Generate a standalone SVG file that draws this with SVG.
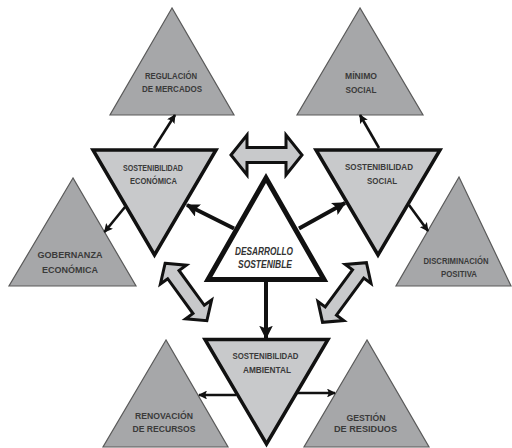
<svg xmlns="http://www.w3.org/2000/svg" width="512" height="448" viewBox="0 0 512 448">
<style>
.outer{fill:#a6a7a9;stroke:#5a5a5a;stroke-width:1.2;stroke-linejoin:miter}
.inv{fill:#c8c9cb;stroke:#111;stroke-width:3.5;stroke-linejoin:miter}
.core{fill:#fff;stroke:#111;stroke-width:5;stroke-linejoin:miter}
.dbl{fill:#c8c9cb;stroke:#111;stroke-width:3;stroke-linejoin:miter}
.t{font-family:"Liberation Sans",Arial,sans-serif;font-weight:bold;font-size:9.5px;fill:#3a3a3a;text-anchor:middle}
.ti{font-family:"Liberation Sans",Arial,sans-serif;font-weight:bold;font-style:italic;font-size:10px;fill:#333;text-anchor:middle}
.a1{stroke:#111;stroke-width:4;fill:none;marker-end:url(#hd)}
.a2{stroke:#111;stroke-width:2.6;fill:none;marker-end:url(#hd)}
</style>
<defs>
<marker id="hd" viewBox="0 0 10 10" refX="9" refY="5" markerWidth="3.4" markerHeight="3.4" orient="auto" markerUnits="strokeWidth">
<path d="M0,0 L10,5 L0,10 L2,5 z" fill="#111"/>
</marker>
</defs>

<g id="regulacion">
<polygon class="outer" points="172,8 110,115 234,115"/>
<text class="t" x="171" y="79" textLength="52" lengthAdjust="spacingAndGlyphs">REGULACIÓN</text>
<text class="t" x="172" y="92" textLength="60" lengthAdjust="spacingAndGlyphs">DE MERCADOS</text>
</g>
<g id="minimo">
<polygon class="outer" points="360,8 297,115 423,115"/>
<text class="t" x="361" y="79" textLength="32" lengthAdjust="spacingAndGlyphs">MÍNIMO</text>
<text class="t" x="361" y="93" textLength="31" lengthAdjust="spacingAndGlyphs">SOCIAL</text>
</g>
<g id="gobernanza">
<polygon class="outer" points="73,178 9,286 136,286"/>
<text class="t" x="70" y="258" font-size="10.5" textLength="65" lengthAdjust="spacingAndGlyphs">GOBERNANZA</text>
<text class="t" x="70" y="273" font-size="10.5" textLength="56" lengthAdjust="spacingAndGlyphs">ECONÓMICA</text>
</g>
<g id="discriminacion">
<polygon class="outer" points="459,177 396,286 511,286"/>
<text class="t" x="456" y="264" font-size="9" textLength="65" lengthAdjust="spacingAndGlyphs">DISCRIMINACIÓN</text>
<text class="t" x="459" y="277" font-size="9" textLength="36" lengthAdjust="spacingAndGlyphs">POSITIVA</text>
</g>
<g id="renovacion">
<polygon class="outer" points="166,340 103,447 228,447"/>
<text class="t" x="164" y="419" font-size="10" textLength="58" lengthAdjust="spacingAndGlyphs">RENOVACIÓN</text>
<text class="t" x="164" y="432" font-size="10" textLength="63" lengthAdjust="spacingAndGlyphs">DE RECURSOS</text>
</g>
<g id="gestion">
<polygon class="outer" points="367,340 304,447 429,447"/>
<text class="t" x="366" y="421" font-size="10" textLength="39" lengthAdjust="spacingAndGlyphs">GESTIÓN</text>
<text class="t" x="365.5" y="432" font-size="10" textLength="63" lengthAdjust="spacingAndGlyphs">DE RESIDUOS</text>
</g>

<g id="sost-economica">
<polygon class="inv" points="93,150 216,150 154.5,255"/>
<text class="t" x="153" y="171" font-size="8.5" textLength="60" lengthAdjust="spacingAndGlyphs">SOSTENIBILIDAD</text>
<text class="t" x="153.5" y="184" font-size="8.5" textLength="47" lengthAdjust="spacingAndGlyphs">ECONÓMICA</text>
</g>
<g id="sost-social">
<polygon class="inv" points="316,150 440,150 378,255"/>
<text class="t" x="379" y="170" font-size="8.5" textLength="68" lengthAdjust="spacingAndGlyphs">SOSTENIBILIDAD</text>
<text class="t" x="382" y="184" font-size="8.5" textLength="30" lengthAdjust="spacingAndGlyphs">SOCIAL</text>
</g>
<g id="sost-ambiental">
<polygon class="inv" points="205,339.5 328,339.5 266.5,444"/>
<text class="t" x="265.5" y="359" font-size="8.5" textLength="66" lengthAdjust="spacingAndGlyphs">SOSTENIBILIDAD</text>
<text class="t" x="267" y="373" font-size="8.5" textLength="48" lengthAdjust="spacingAndGlyphs">AMBIENTAL</text>
</g>
<g id="desarrollo">
<polygon class="core" points="266,178 208,279.5 324,279.5"/>
<text class="ti" x="264" y="255" textLength="58" lengthAdjust="spacingAndGlyphs">DESARROLLO</text>
<text class="ti" x="265" y="268" textLength="54" lengthAdjust="spacingAndGlyphs">SOSTENIBLE</text>
</g>

<g id="connectors">
<line class="a1" x1="234" y1="228.5" x2="187" y2="205"/>
<line class="a1" x1="299" y1="228.5" x2="345" y2="203"/>
<line class="a1" x1="266" y1="282" x2="266" y2="338"/>
<line class="a2" x1="154" y1="148" x2="175" y2="115"/>
<line class="a2" x1="379" y1="148" x2="360" y2="115"/>
<line class="a2" x1="125" y1="207" x2="104.5" y2="232"/>
<line class="a2" x1="409" y1="205" x2="428" y2="231"/>
<line class="a2" x1="236" y1="395" x2="199" y2="395"/>
<line class="a2" x1="297" y1="393" x2="335" y2="393"/>
<path class="dbl" transform="translate(266.5,155)" d="M-35.5,0 L-19.5,-20 L-19.5,-7.5 L19.5,-7.5 L19.5,-20 L35.5,0 L19.5,20 L19.5,7.5 L-19.5,7.5 L-19.5,20 Z"/>
<path class="dbl" transform="translate(186,292) rotate(54)" d="M-35.5,0 L-21.5,-16 L-21.5,-7 L21.5,-7 L21.5,-16 L35.5,0 L21.5,16 L21.5,7 L-21.5,7 L-21.5,16 Z"/>
<path class="dbl" transform="translate(344.5,292.5) rotate(126.4)" d="M-37,0 L-23,-16 L-23,-7 L23,-7 L23,-16 L37,0 L23,16 L23,7 L-23,7 L-23,16 Z"/>
</g>
</svg>
